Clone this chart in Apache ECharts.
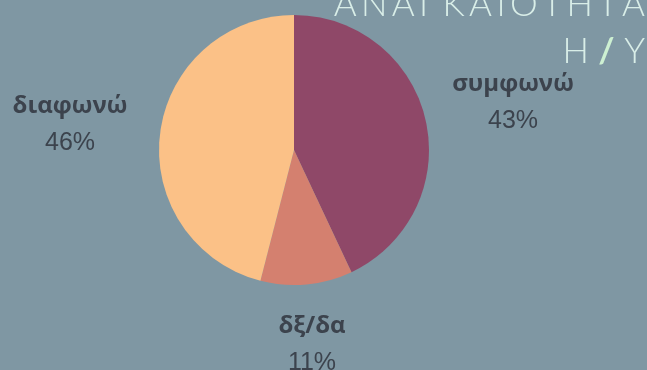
<!DOCTYPE html>
<html>
<head>
<meta charset="utf-8">
<script src="https://cdn.jsdelivr.net/npm/echarts@6/dist/echarts.min.js"></script>
<style>
  html, body { margin: 0; padding: 0; background: #7f97a3; }
  #chart { width: 647px; height: 370px; }
</style>
</head>
<body>
<div id="chart"></div>
<script>
// Survey answers on the need for computers (Η/Υ)
const categories = ['συμφωνώ', 'δξ/δα', 'διαφωνώ'];
const shares = [43, 11, 46];
const sliceColors = ['#8f4868', '#d4806f', '#fbc187'];

// label anchor points (name line centre) per slice
const labelSpots = [[513, 84], [312, 326], [70, 106]];

const chart = echarts.init(document.getElementById('chart'), null, { renderer: 'canvas' });

const gap = '\u200A\u200A';
const spaced = s => s.split('').join(gap);

chart.setOption({
  backgroundColor: '#7f97a3',
  animation: false,
  graphic: [
    {
      type: 'text',
      right: 2,
      top: -13,
      style: {
        text: spaced('ΑΝΑΓΚΑΙΟΤΗΤΑ'),
        font: '300 35px Lato, "Open Sans", sans-serif',
        fill: '#d9eee8',
        textAlign: 'right'
      }
    },
    {
      type: 'text',
      right: 2,
      top: 34,
      style: {
        text: '{a|Η }{s|/}{a| Υ}',
        textAlign: 'right',
        rich: {
          a: { font: '300 35px Lato, "Open Sans", sans-serif', fill: '#d9eee8' },
          s: { font: '700 35px Lato, "Open Sans", sans-serif', fill: '#cdf0d2' }
        }
      }
    }
  ],
  series: [{
    type: 'pie',
    center: [294, 150],
    radius: [0, 135],
    startAngle: 90,
    clockwise: true,
    silent: true,
    data: categories.map((name, i) => ({
      name: name,
      value: shares[i],
      itemStyle: { color: sliceColors[i] }
    })),
    label: {
      show: true,
      position: 'outside',
      overflow: 'none',
      edgeDistance: 0,
      formatter: '{n|{b}}\n{p|{c}%}',
      rich: {
        n: { fontFamily: '"Open Sans", sans-serif', fontWeight: 'bold', fontSize: 24, color: '#3c434d', lineHeight: 37, align: 'center' },
        p: { fontFamily: '"Liberation Sans", Arial, sans-serif', fontSize: 25, color: '#3c434d', lineHeight: 37, align: 'center' }
      }
    },
    labelLine: { show: false },
    labelLayout: function (params) {
      const spot = labelSpots[params.dataIndex];
      return {
        x: spot[0],
        y: spot[1] - 18,
        align: 'center',
        verticalAlign: 'top'
      };
    }
  }]
});
</script>
</body>
</html>
